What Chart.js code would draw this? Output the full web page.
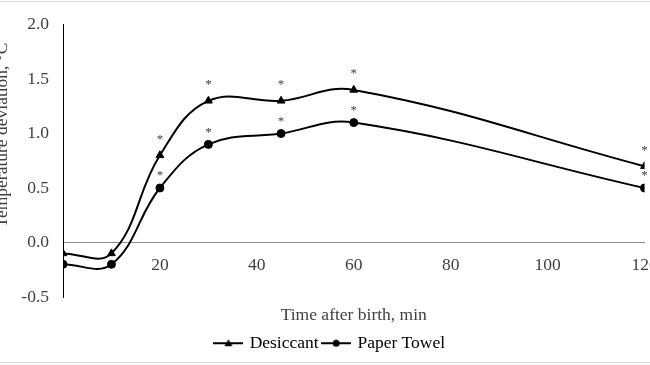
<!DOCTYPE html>
<html>
<head>
<meta charset="utf-8">
<script src="https://cdn.jsdelivr.net/npm/chart.js@4"></script>
<style>
  html, body { margin: 0; padding: 0; background: #fff; overflow: hidden; }
  #wrap { position: relative; width: 650px; height: 365px; }
  #frame { position: absolute; left: -2px; top: 1px; width: 660px; height: 360px;
           border-top: 1px solid #d9d9d9; border-bottom: 1px solid #d9d9d9; pointer-events: none; }
</style>
</head>
<body>
<div id="wrap">
  <canvas id="chart" width="650" height="365"></canvas>
  <div id="frame"></div>
</div>
<script>
// minutes after birth
const times = [0, 10, 20, 30, 45, 60, 120];
const desiccant = [-0.1, -0.1, 0.8, 1.3, 1.3, 1.4, 0.7];
const paperTowel = [-0.2, -0.2, 0.5, 0.9, 1.0, 1.1, 0.5];
// significance stars
const desiccantSig = [false, false, true, true, true, true, true];
const paperTowelSig = [false, false, true, true, true, true, true];
const yTitle = 'Temperature deviation, °C';
const xTitle = 'Time after birth, min';

const FONT = 'Liberation Serif';
const TXT = '#404040';

function legendMarker(style) {
    const c = document.createElement('canvas');
    c.width = 30;
    c.height = 12;
    const g = c.getContext('2d');
    g.strokeStyle = '#000';
    g.lineWidth = 2;
    g.beginPath();
    g.moveTo(0, 6);
    g.lineTo(30, 6);
    g.stroke();
    g.fillStyle = '#000';
    g.beginPath();
    if (style === 'triangle') {
        g.moveTo(15, 2);
        g.lineTo(19, 9);
        g.lineTo(11, 9);
        g.closePath();
    } else {
        g.arc(15, 6, 3.5, 0, Math.PI * 2);
    }
    g.fill();
    return c;
}

const starPlugin = {
    id: 'stars',
    afterDatasetsDraw(chart) {
        const ctx = chart.ctx;
        const flags = [desiccantSig, paperTowelSig];
        const lift = [16, 12];
        ctx.save();
        ctx.font = '13px ' + FONT;
        ctx.fillStyle = TXT;
        ctx.textAlign = 'center';
        ctx.textBaseline = 'middle';
        chart.data.datasets.forEach((ds, d) => {
            chart.getDatasetMeta(d).data.forEach((pt, i) => {
                if (flags[d][i]) ctx.fillText('*', pt.x, pt.y - lift[d]);
            });
        });
        ctx.restore();
    }
};

const yTitlePlugin = {
    id: 'ytitle',
    afterDraw(chart) {
        const ctx = chart.ctx;
        ctx.save();
        ctx.translate(7, 135);
        ctx.rotate(-Math.PI / 2);
        ctx.font = '17.5px ' + FONT;
        ctx.fillStyle = TXT;
        ctx.textAlign = 'center';
        ctx.textBaseline = 'alphabetic';
        ctx.fillText(yTitle, 0, 0);
        ctx.restore();
    }
};

new Chart(document.getElementById('chart'), {
    type: 'line',
    data: {
        datasets: [{
            label: 'Desiccant',
            data: times.map((t, i) => ({ x: t, y: desiccant[i] })),
            borderColor: '#000',
            backgroundColor: '#000',
            borderWidth: 2,
            pointStyle: 'triangle',
            pointRadius: 4.5,
            pointBorderWidth: 1,
            tension: 0.4
        }, {
            label: 'Paper Towel',
            data: times.map((t, i) => ({ x: t, y: paperTowel[i] })),
            borderColor: '#000',
            backgroundColor: '#000',
            borderWidth: 2,
            pointStyle: 'circle',
            pointRadius: 4,
            pointBorderWidth: 1,
            tension: 0.4
        }]
    },
    options: {
        responsive: false,
        animation: false,
        layout: { padding: { left: 16, right: 5, top: 20, bottom: 3 } },
        scales: {
            x: {
                type: 'linear',
                position: { y: 0 },
                min: 0,
                max: 120,
                grid: { display: false, drawTicks: false },
                border: { display: true, color: '#8c8c8c', width: 1 },
                ticks: {
                    stepSize: 20,
                    padding: 12,
                    maxRotation: 0,
                    color: TXT,
                    font: { family: FONT, size: 17.5 },
                    callback: v => (v === 0 ? '' : v)
                },
                afterFit(s) { s.paddingLeft = 0; s.paddingRight = 0; }
            },
            y: {
                min: -0.5,
                max: 2.0,
                grid: { display: false, drawTicks: false },
                border: { display: true, color: '#000', width: 1 },
                ticks: {
                    stepSize: 0.5,
                    padding: 14,
                    color: TXT,
                    font: { family: FONT, size: 17.5 },
                    callback: v => v.toFixed(1)
                },
                afterFit(s) { s.width = 47; }
            }
        },
        plugins: {
            title: {
                display: true,
                text: xTitle,
                position: 'bottom',
                fullSize: false,
                weight: 500,
                color: TXT,
                font: { family: FONT, size: 17.5, weight: 'normal' },
                padding: { top: 7.5, bottom: 4 }
            },
            legend: {
                position: 'bottom',
                labels: {
                    usePointStyle: true,
                    pointStyleWidth: 25,
                    padding: 5,
                    color: '#000',
                    font: { family: FONT, size: 17.5 },
                    generateLabels: chart => chart.data.datasets.map((ds, i) => ({
                        text: ds.label,
                        pointStyle: legendMarker(ds.pointStyle),
                        fillStyle: '#000',
                        strokeStyle: '#000',
                        lineWidth: 0,
                        fontColor: '#000',
                        datasetIndex: i
                    }))
                }
            },
            tooltip: { enabled: false }
        }
    },
    plugins: [starPlugin, yTitlePlugin]
});
</script>
</body>
</html>
